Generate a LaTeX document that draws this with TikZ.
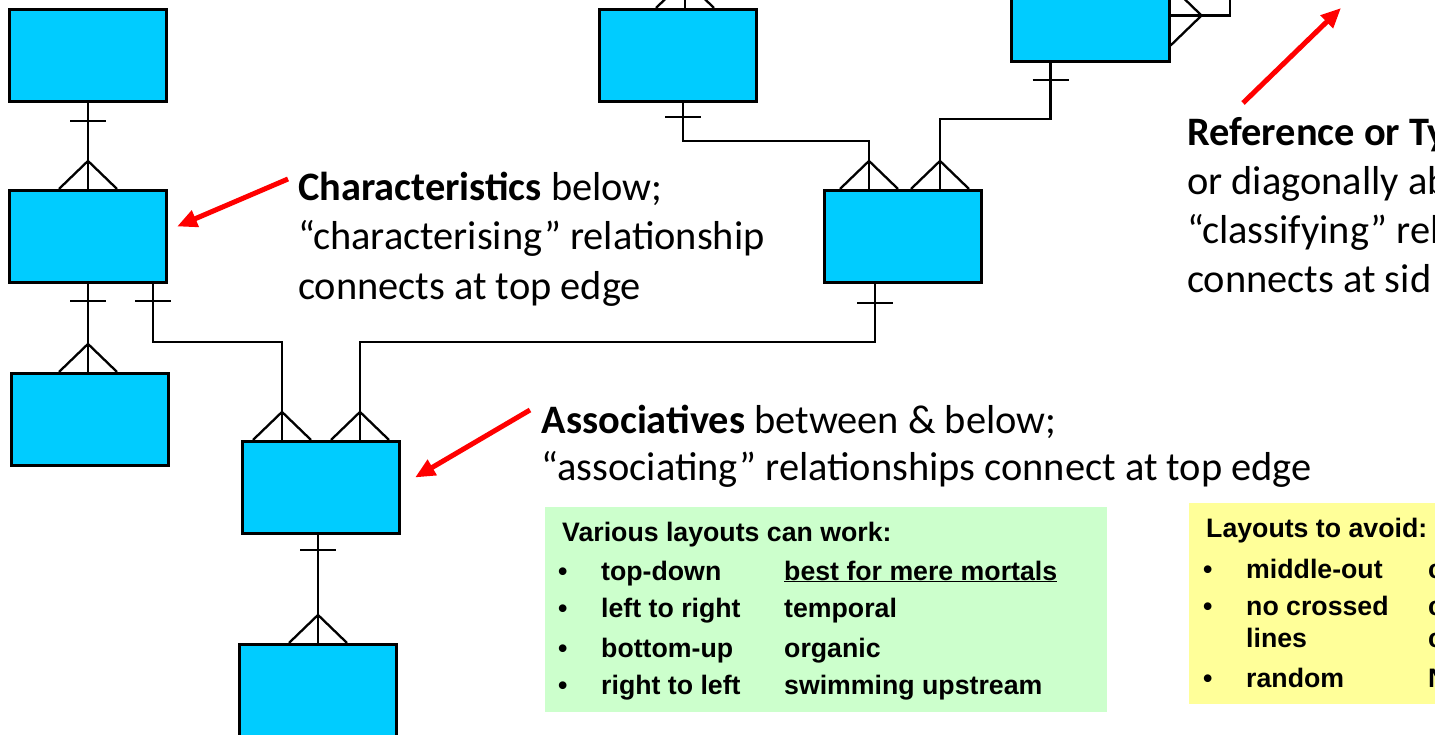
\documentclass[tikz,border=0pt]{standalone}
\usepackage{fontspec}
\setmainfont{Carlito}
\newfontfamily\arialfont{Liberation Sans}
\usetikzlibrary{arrows.meta}
\definecolor{entblue}{HTML}{00CCFF}
\definecolor{goodgreen}{HTML}{CCFFCC}
\definecolor{badyellow}{HTML}{FFFF99}
\tikzset{
  entity/.style  = {rectangle, draw, line width=2.6pt, fill=entblue, minimum width=157.5pt, minimum height=92.5pt, inner sep=0},
  rel/.style     = {line width=2.3pt},
  pointer/.style = {draw=red, line width=5pt, -{Triangle[length=20pt,width=17pt]}},
  note/.style    = {font=\fontsize{40.4}{50}\selectfont, anchor=base west, align=left, inner sep=0},
  panel/.style   = {rectangle, inner sep=0},
  lay/.style     = {font=\arialfont\bfseries\fontsize{26.7}{31}\selectfont, anchor=base west, inner sep=0},
  one/.pic       = {\draw[rel] (-18,0) -- (18,0);},
  many/.pic      = {\draw[rel] (-29,0) -- (0,-28) -- (29,0);},
  manyside/.pic  = {\draw[rel] (0,-30) -- (31,0) -- (0,30);}
}

\begin{document}
\begin{tikzpicture}[x=1pt, y=-1pt]
  \useasboundingbox (0,0) rectangle (1435,735);
  \clip (0,0) rectangle (1435,735);

  % ---- entities ----
  \node[entity] (A) at (88,55.5)    {};
  \node[entity] (B) at (88,236.5)   {};
  \node[entity] (C) at (90,419.5)   {};
  \node[entity] (D) at (321,487.5)  {};
  \node[entity] (E) at (318,690.5)  {};
  \node[entity] (F) at (678,55.5)   {};
  \node[entity] (G) at (1090.5,15.5){};
  \node[entity] (H) at (903,236.5)  {};

  % ---- attachment points ----
  \coordinate (b2) at ([xshift=65]B.south);
  \coordinate (d1) at ([xshift=-39]D.north);
  \coordinate (d2) at ([xshift=39]D.north);
  \coordinate (f1) at ([xshift=5]F.south);
  \coordinate (f2) at ([xshift=7]F.north);
  \coordinate (h1) at ([xshift=-34]H.north);
  \coordinate (h2) at ([xshift=37]H.north);
  \coordinate (h3) at ([xshift=-28]H.south);
  \coordinate (g2) at ([xshift=-40]G.south);
  \coordinate (mid1) at (282,342);
  \coordinate (mid2) at (875,342);
  \coordinate (mid3) at (869,141);
  \coordinate (mid4) at (1050.5,119);
  \coordinate (gbend) at (1230,15.5);
  \coordinate (gup) at (1230,-20);
  \coordinate (fup) at (685,-20);

  % ---- characterising ----
  \draw[rel] (A.south) -- (B.north);
  \pic at ([yshift=-18]A.south) {one};
  \pic at (B.north) {many};
  \draw[rel] (B.south) -- (B.south |- C.north);
  \pic at ([yshift=-17]B.south) {one};
  \pic at (B.south |- C.north) {many};
  \draw[rel] (E.north |- D.south) -- (E.north);
  \pic at ([yshift=-15]E.north |- D.south) {one};
  \pic at (E.north) {many};

  % ---- associating ----
  \draw[rel] (b2) |- (mid1) -- (d1);
  \pic at ([yshift=-17]b2) {one};
  \pic at (d1) {many};
  \draw[rel] (d2) |- (mid2) -- (h3);
  \pic at ([yshift=-19]h3) {one};
  \pic at (d2) {many};
  \draw[rel] (f1) |- (mid3) -- (h1);
  \pic at ([yshift=-14]f1) {one};
  \pic at (h1) {many};
  \draw[rel] (h2) |- (mid4) -- (g2);
  \pic at ([yshift=-17]g2) {one};
  \pic at (h2) {many};

  % ---- off the top ----
  \draw[rel] (f2) -- (fup);
  \pic at (f2) {many};
  \draw[rel] (G.east) -- (gbend) -- (gup);
  \pic at (G.east) {manyside};

  % ---- notes (anchored on last line) ----
  \node[note] (chartxt) at (298,300)
    {\textbf{Characteristics} below;\\“characterising” relationship\\connects at top edge};
  \node[note] (assoctxt) at (541.5,480)
    {\textbf{Associatives} between \& below;\\[-3pt]“associating” relationships connect at top edge};
  \node[note] (reftxt) at (1187,293)
    {\textbf{Reference or Ty}\\[-1pt]or diagonally ab\\[-1pt]“classifying” rel\\[-1pt]connects at sid};

  \draw[pointer] (288,179) -- ([xshift=9,yshift=10]B.east);
  \draw[pointer] (530,410) -- ([xshift=14,yshift=10]D.east);
  \draw[pointer] (1243,103) -- (1341,8);

  % ---- layouts that work ----
  \node[panel, fill=goodgreen, minimum width=562pt, minimum height=205pt] (good) at (826,609.5) {};
  \node[lay] (goodhd) at (562,541) {Various layouts can work:};
  \node[lay] at (558,580) {•}; \node[lay] (g1) at (601,580) {top-down};      \node[lay] at (784,580) {\underline{best for mere mortals}};
  \node[lay] at (558,617) {•}; \node[lay] (g2) at (601,617) {left to right}; \node[lay] at (784,617) {temporal};
  \node[lay] at (558,657) {•}; \node[lay] (g3) at (601,657) {bottom-up};     \node[lay] at (784,657) {organic};
  \node[lay] at (558,694) {•}; \node[lay] (g4) at (601,694) {right to left}; \node[lay] at (784,694) {swimming upstream};

  % ---- layouts to avoid ----
  \node[panel, fill=badyellow, minimum width=271pt, minimum height=201pt] (bad) at (1324.5,603.5) {};
  \node[lay] (badhd) at (1206,537) {Layouts to avoid:};
  \node[lay] at (1203,578) {•}; \node[lay] (b1) at (1246,578) {middle-out}; \node[lay] at (1428,578) {c};
  \node[lay] at (1203,615) {•}; \node[lay] (b2t) at (1246,615) {no crossed}; \node[lay] at (1428,615) {c};
                                \node[lay] (b3) at (1246,647) {lines};      \node[lay] at (1428,647) {c};
  \node[lay] at (1203,687) {•}; \node[lay] (b4) at (1246,687) {random};     \node[lay] at (1428,687) {N};

\end{tikzpicture}
\end{document}
